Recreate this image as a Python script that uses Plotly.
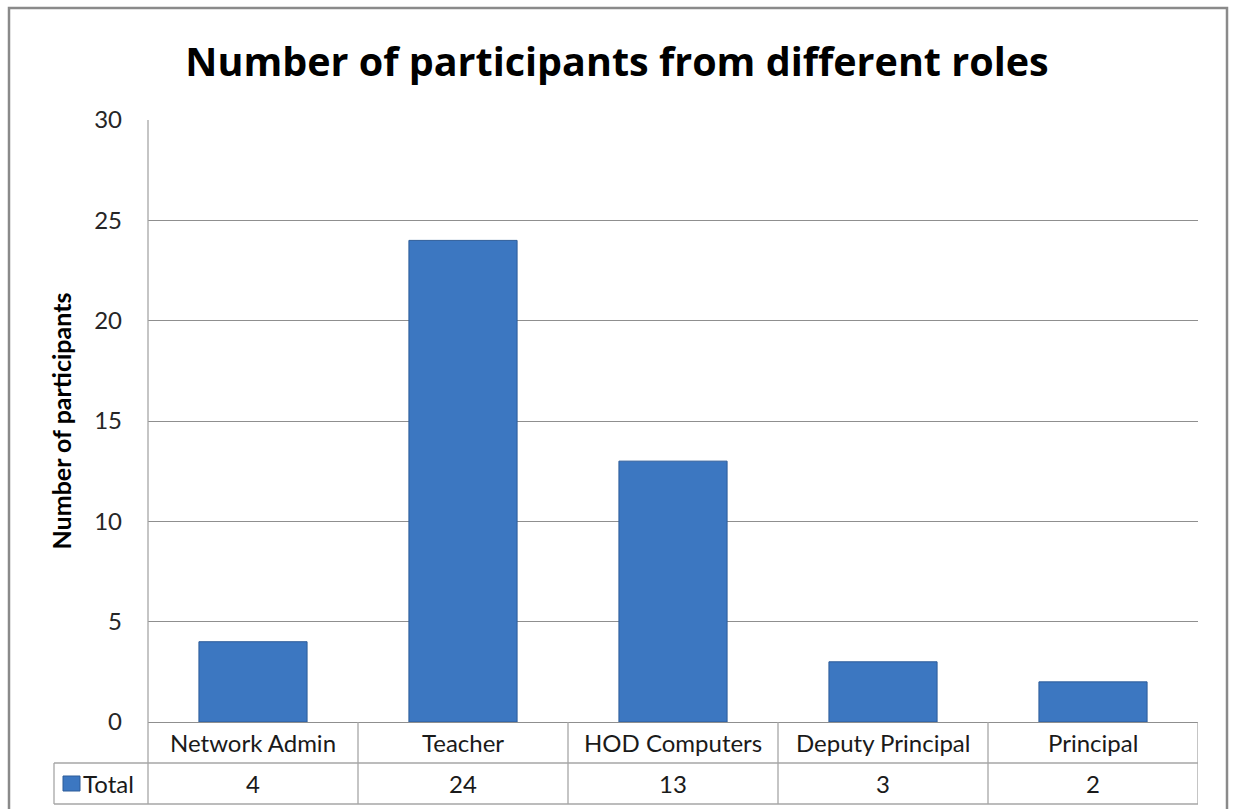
import plotly.graph_objects as go

# Participants per role
roles = ["Network Admin", "Teacher", "HOD Computers", "Deputy Principal", "Principal"]
totals = [4, 24, 13, 3, 2]
series_name = "Total"
y_ticks = [0, 5, 10, 15, 20, 25, 30]

W, H = 1234, 809
M_L, M_R, M_T, M_B = 148, 36, 120, 87
PLOT_H = H - M_T - M_B
PLOT_W = W - M_L - M_R

FONT = "Lato"
GRID = "#8f8f8f"
TABLE = "#a6a6a6"
BAR = "#3c77c1"
BAR_EDGE = "#2d5c99"
TXT = "#1a1a1a"


def py(pix):
    """Pixel row (from top of page) -> paper y."""
    return (H - M_B - pix) / PLOT_H


def px(pix):
    """Pixel column (from left of page) -> paper x."""
    return (pix - M_L) / PLOT_W


fig = go.Figure()
fig.add_trace(go.Bar(
    x=roles, y=totals, name=series_name, width=0.515,
    marker=dict(color=BAR, line=dict(color=BAR_EDGE, width=1)),
    showlegend=False, hoverinfo="x+y",
))

shapes = []
annotations = []

# outer chart border
shapes.append(dict(type="rect", xref="paper", yref="paper",
                   x0=px(9), x1=px(1227), y0=py(830), y1=py(8),
                   line=dict(color="#8a8a8a", width=2.5), layer="below"))

# data table under the plot
n = len(roles)
row1_bot, row2_bot = 763, 804
left_col = 54
for yy in (row1_bot, row2_bot):
    shapes.append(dict(type="line", xref="paper", yref="paper",
                       x0=px(left_col), x1=1, y0=py(yy), y1=py(yy),
                       line=dict(color=TABLE, width=1.3)))
shapes.append(dict(type="line", xref="paper", yref="paper",
                   x0=0, x1=0, y0=py(row2_bot), y1=1,
                   line=dict(color=TABLE, width=1.3)))
shapes.append(dict(type="line", xref="paper", yref="paper",
                   x0=px(left_col), x1=px(left_col), y0=py(row2_bot), y1=py(row1_bot),
                   line=dict(color=TABLE, width=1.3)))
for i in range(n):
    shapes.append(dict(type="line", xref="x", yref="paper",
                       x0=i + 0.5, x1=i + 0.5, y0=py(row2_bot), y1=0,
                       line=dict(color=TABLE, width=1.3)))
for i, (r, v) in enumerate(zip(roles, totals)):
    annotations.append(dict(xref="x", yref="paper", x=i, y=py(742.5), text=r,
                            xanchor="center", yanchor="middle", showarrow=False,
                            font=dict(family=FONT, size=24, color=TXT)))
    annotations.append(dict(xref="x", yref="paper", x=i, y=py(783.5), text=str(v),
                            xanchor="center", yanchor="middle", showarrow=False,
                            font=dict(family=FONT, size=24, color=TXT)))

# legend key + series name in the table's first column
shapes.append(dict(type="rect", xref="paper", yref="paper",
                   x0=px(63), x1=px(80), y0=py(791), y1=py(776),
                   fillcolor=BAR, line=dict(color=BAR_EDGE, width=1)))
annotations.append(dict(xref="paper", yref="paper", x=px(81), y=py(783.5), text=series_name,
                        xanchor="left", yanchor="middle", showarrow=False,
                        font=dict(family=FONT, size=24, color=TXT)))

fig.update_layout(
    width=W, height=H,
    margin=dict(l=M_L, r=M_R, t=M_T, b=M_B),
    paper_bgcolor="white", plot_bgcolor="white",
    title=dict(text="<b>Number of participants from different roles</b>",
               x=0.5, xanchor="center", y=1 - 62 / H, yanchor="middle",
               font=dict(family="Open Sans", size=39.5, color="#000000")),
    bargap=0.5,
    xaxis=dict(type="category", range=[-0.5, n - 0.5], showticklabels=False,
               showgrid=False, zeroline=False, showline=False, ticks=""),
    yaxis=dict(range=[0, 30], tickvals=y_ticks, showgrid=True, gridcolor=GRID, gridwidth=1,
               zeroline=True, zerolinecolor=GRID, zerolinewidth=1,
               showline=False, ticks="", ticklabelstandoff=25,
               tickfont=dict(family=FONT, size=24, color="#262626"),
               title=dict(text="<b>Number of participants</b>", standoff=15,
                          font=dict(family=FONT, size=25, color="#000000"))),
    shapes=shapes,
    annotations=annotations,
)

fig.write_html("out.html")
